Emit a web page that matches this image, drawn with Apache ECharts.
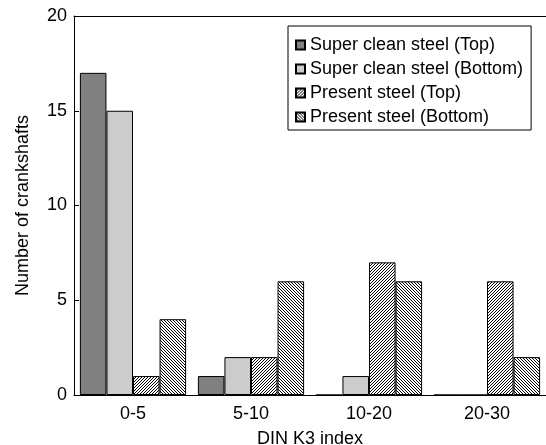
<!DOCTYPE html>
<html>
<head>
<meta charset="utf-8">
<script src="https://cdn.jsdelivr.net/npm/echarts@6/dist/echarts.min.js"></script>
<style>
  html, body { margin: 0; padding: 0; background: #fff; }
  #chart { width: 546px; height: 445px; }
</style>
</head>
<body>
<div id="chart"></div>
<script>
// Crankshaft counts per DIN K3 index class
const categories = ['0-5', '5-10', '10-20', '20-30'];
const superCleanTop = [17, 1, 0, 0];
const superCleanBottom = [15, 2, 1, 0];
const presentTop = [1, 2, 7, 6];
const presentBottom = [4, 6, 6, 2];
const yTicks = [0, 5, 10, 15, 20];

const FONT = '"Liberation Sans", Arial, sans-serif';

// Diagonal hatch fill drawn on a small repeating tile
function hatch(forward) {
  const size = 12, period = 3;
  const c = document.createElement('canvas');
  c.width = size; c.height = size;
  const ctx = c.getContext('2d');
  ctx.fillStyle = '#fff';
  ctx.fillRect(0, 0, size, size);
  ctx.strokeStyle = '#000';
  ctx.lineWidth = 1;
  ctx.beginPath();
  for (let k = -size * 2; k <= size * 2; k += period) {
    if (forward) {            // "/" lines: x + y = k
      ctx.moveTo(k - size * 2, size * 2);
      ctx.lineTo(k + size * 2, -size * 2);
    } else {                  // "\" lines: x - y = k
      ctx.moveTo(k - size * 2, -size * 2);
      ctx.lineTo(k + size * 2, size * 2);
    }
  }
  ctx.stroke();
  return { image: c, repeat: 'repeat' };
}

const chart = echarts.init(document.getElementById('chart'), null, { renderer: 'canvas' });

function barSeries(name, data, color) {
  return {
    name: name,
    type: 'bar',
    xAxisIndex: 0,
    data: data,
    barGap: '0%',
    barCategoryGap: '10%',
    itemStyle: { color: color, borderColor: '#000', borderWidth: 1 },
    emphasis: { disabled: true },
    animation: false
  };
}

chart.setOption({
  animation: false,
  textStyle: { fontFamily: FONT },
  grid: { left: 74, right: 0, top: 16, bottom: 50, containLabel: false, outerBoundsMode: 'none' },
  legend: {
    orient: 'vertical',
    left: 288,
    top: 26,
    padding: [9, 8, 3, 7],
    backgroundColor: '#fff',
    borderColor: '#000',
    borderWidth: 1,
    borderRadius: 0,
    itemWidth: 9,
    itemHeight: 9,
    itemGap: 4,
    itemTextGap: 11,
    icon: 'rect',
    selectedMode: false,
    textStyle: { fontSize: 18, color: '#000', fontFamily: FONT, lineHeight: 20 },
    data: ['Super clean steel (Top)', 'Super clean steel (Bottom)', 'Present steel (Top)', 'Present steel (Bottom)']
  },
  xAxis: [
    {
      type: 'category',
      position: 'bottom',
      data: categories,
      name: 'DIN K3 index',
      nameLocation: 'middle',
      nameGap: 35,
      nameTextStyle: { fontSize: 18, color: '#000', fontFamily: FONT },
      axisLine: { lineStyle: { color: '#000', width: 1 } },
      axisTick: { inside: true, length: 5, lineStyle: { color: '#000' } },
      axisLabel: { fontSize: 18, color: '#000', margin: 10, fontFamily: FONT },
      splitLine: { show: false }
    },
    {
      type: 'category',
      position: 'top',
      data: categories,
      axisLine: { lineStyle: { color: '#000', width: 1 } },
      axisTick: { inside: true, length: 5, lineStyle: { color: '#000' } },
      axisLabel: { show: false },
      splitLine: { show: false }
    }
  ],
  yAxis: {
    type: 'value',
    min: yTicks[0],
    max: yTicks[yTicks.length - 1],
    interval: yTicks[1] - yTicks[0],
    name: 'Number of crankshafts',
    nameLocation: 'middle',
    nameGap: 42,
    nameTextStyle: { fontSize: 18, color: '#000', fontFamily: FONT },
    axisLine: { show: true, lineStyle: { color: '#000', width: 1 } },
    axisTick: { show: true, inside: true, length: 5, lineStyle: { color: '#000' } },
    axisLabel: { fontSize: 18, color: '#000', margin: 7, fontFamily: FONT },
    splitLine: { show: false }
  },
  series: [
    barSeries('Super clean steel (Top)', superCleanTop, '#808080'),
    barSeries('Super clean steel (Bottom)', superCleanBottom, '#cccccc'),
    barSeries('Present steel (Top)', presentTop, hatch(true)),
    barSeries('Present steel (Bottom)', presentBottom, hatch(false))
  ]
});
</script>
</body>
</html>
